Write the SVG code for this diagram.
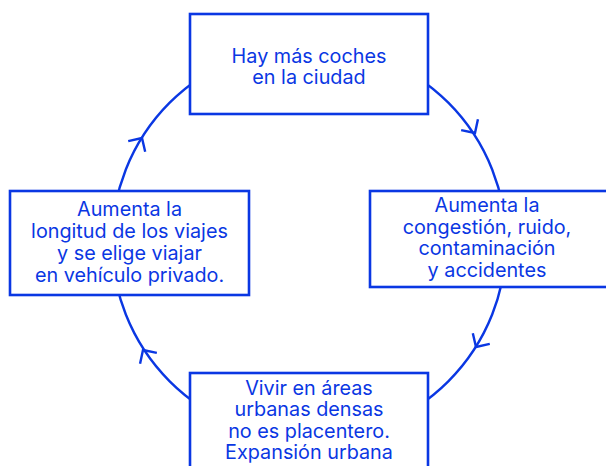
<svg xmlns="http://www.w3.org/2000/svg" width="606" height="466" viewBox="0 0 606 466">
<style>
.box{fill:#fff;stroke:#0a37e3;stroke-width:2.6}
.ln{fill:none;stroke:#0a37e3;stroke-width:2.4}
text{font-family:Inter,"Liberation Sans",sans-serif;font-size:19.8px;fill:#0a37e3;text-anchor:middle}
</style>
<defs>
<path id="chev" d="M-10,-10 L0,0 L-10,10" fill="none" stroke="#0a37e3" stroke-width="2.4"/>
</defs>
<rect width="606" height="466" fill="#fff"/>
<g id="connectors">
<circle class="ln" cx="309" cy="242" r="197"/>
<use href="#chev" transform="translate(475,133) rotate(57)"/>
<use href="#chev" transform="translate(476,347) rotate(122)"/>
<use href="#chev" transform="translate(143,350) rotate(237)"/>
<use href="#chev" transform="translate(142,138) rotate(302)"/>
</g>
<g id="n1">
<rect class="box" x="190" y="14" width="238" height="100"/>
<text x="309" y="63">Hay más coches</text>
<text x="309" y="84">en la ciudad</text>
</g>
<g id="n2">
<rect class="box" x="370" y="191" width="250" height="96"/>
<text x="487" y="212">Aumenta la</text>
<text x="487" y="233.5">congestión, ruido,</text>
<text x="487" y="255">contaminación</text>
<text x="487" y="276.5">y accidentes</text>
</g>
<g id="n3">
<rect class="box" x="190" y="373" width="238" height="110"/>
<text x="309" y="395">Vivir en áreas</text>
<text x="309" y="416">urbanas densas</text>
<text x="309" y="438">no es placentero.</text>
<text x="309" y="459">Expansión urbana</text>
</g>
<g id="n4">
<rect class="box" x="10" y="191" width="239" height="104"/>
<text x="129.5" y="216">Aumenta la</text>
<text x="129.5" y="238">longitud de los viajes</text>
<text x="129.5" y="260">y se elige viajar</text>
<text x="129.5" y="282">en vehículo privado.</text>
</g>
</svg>
